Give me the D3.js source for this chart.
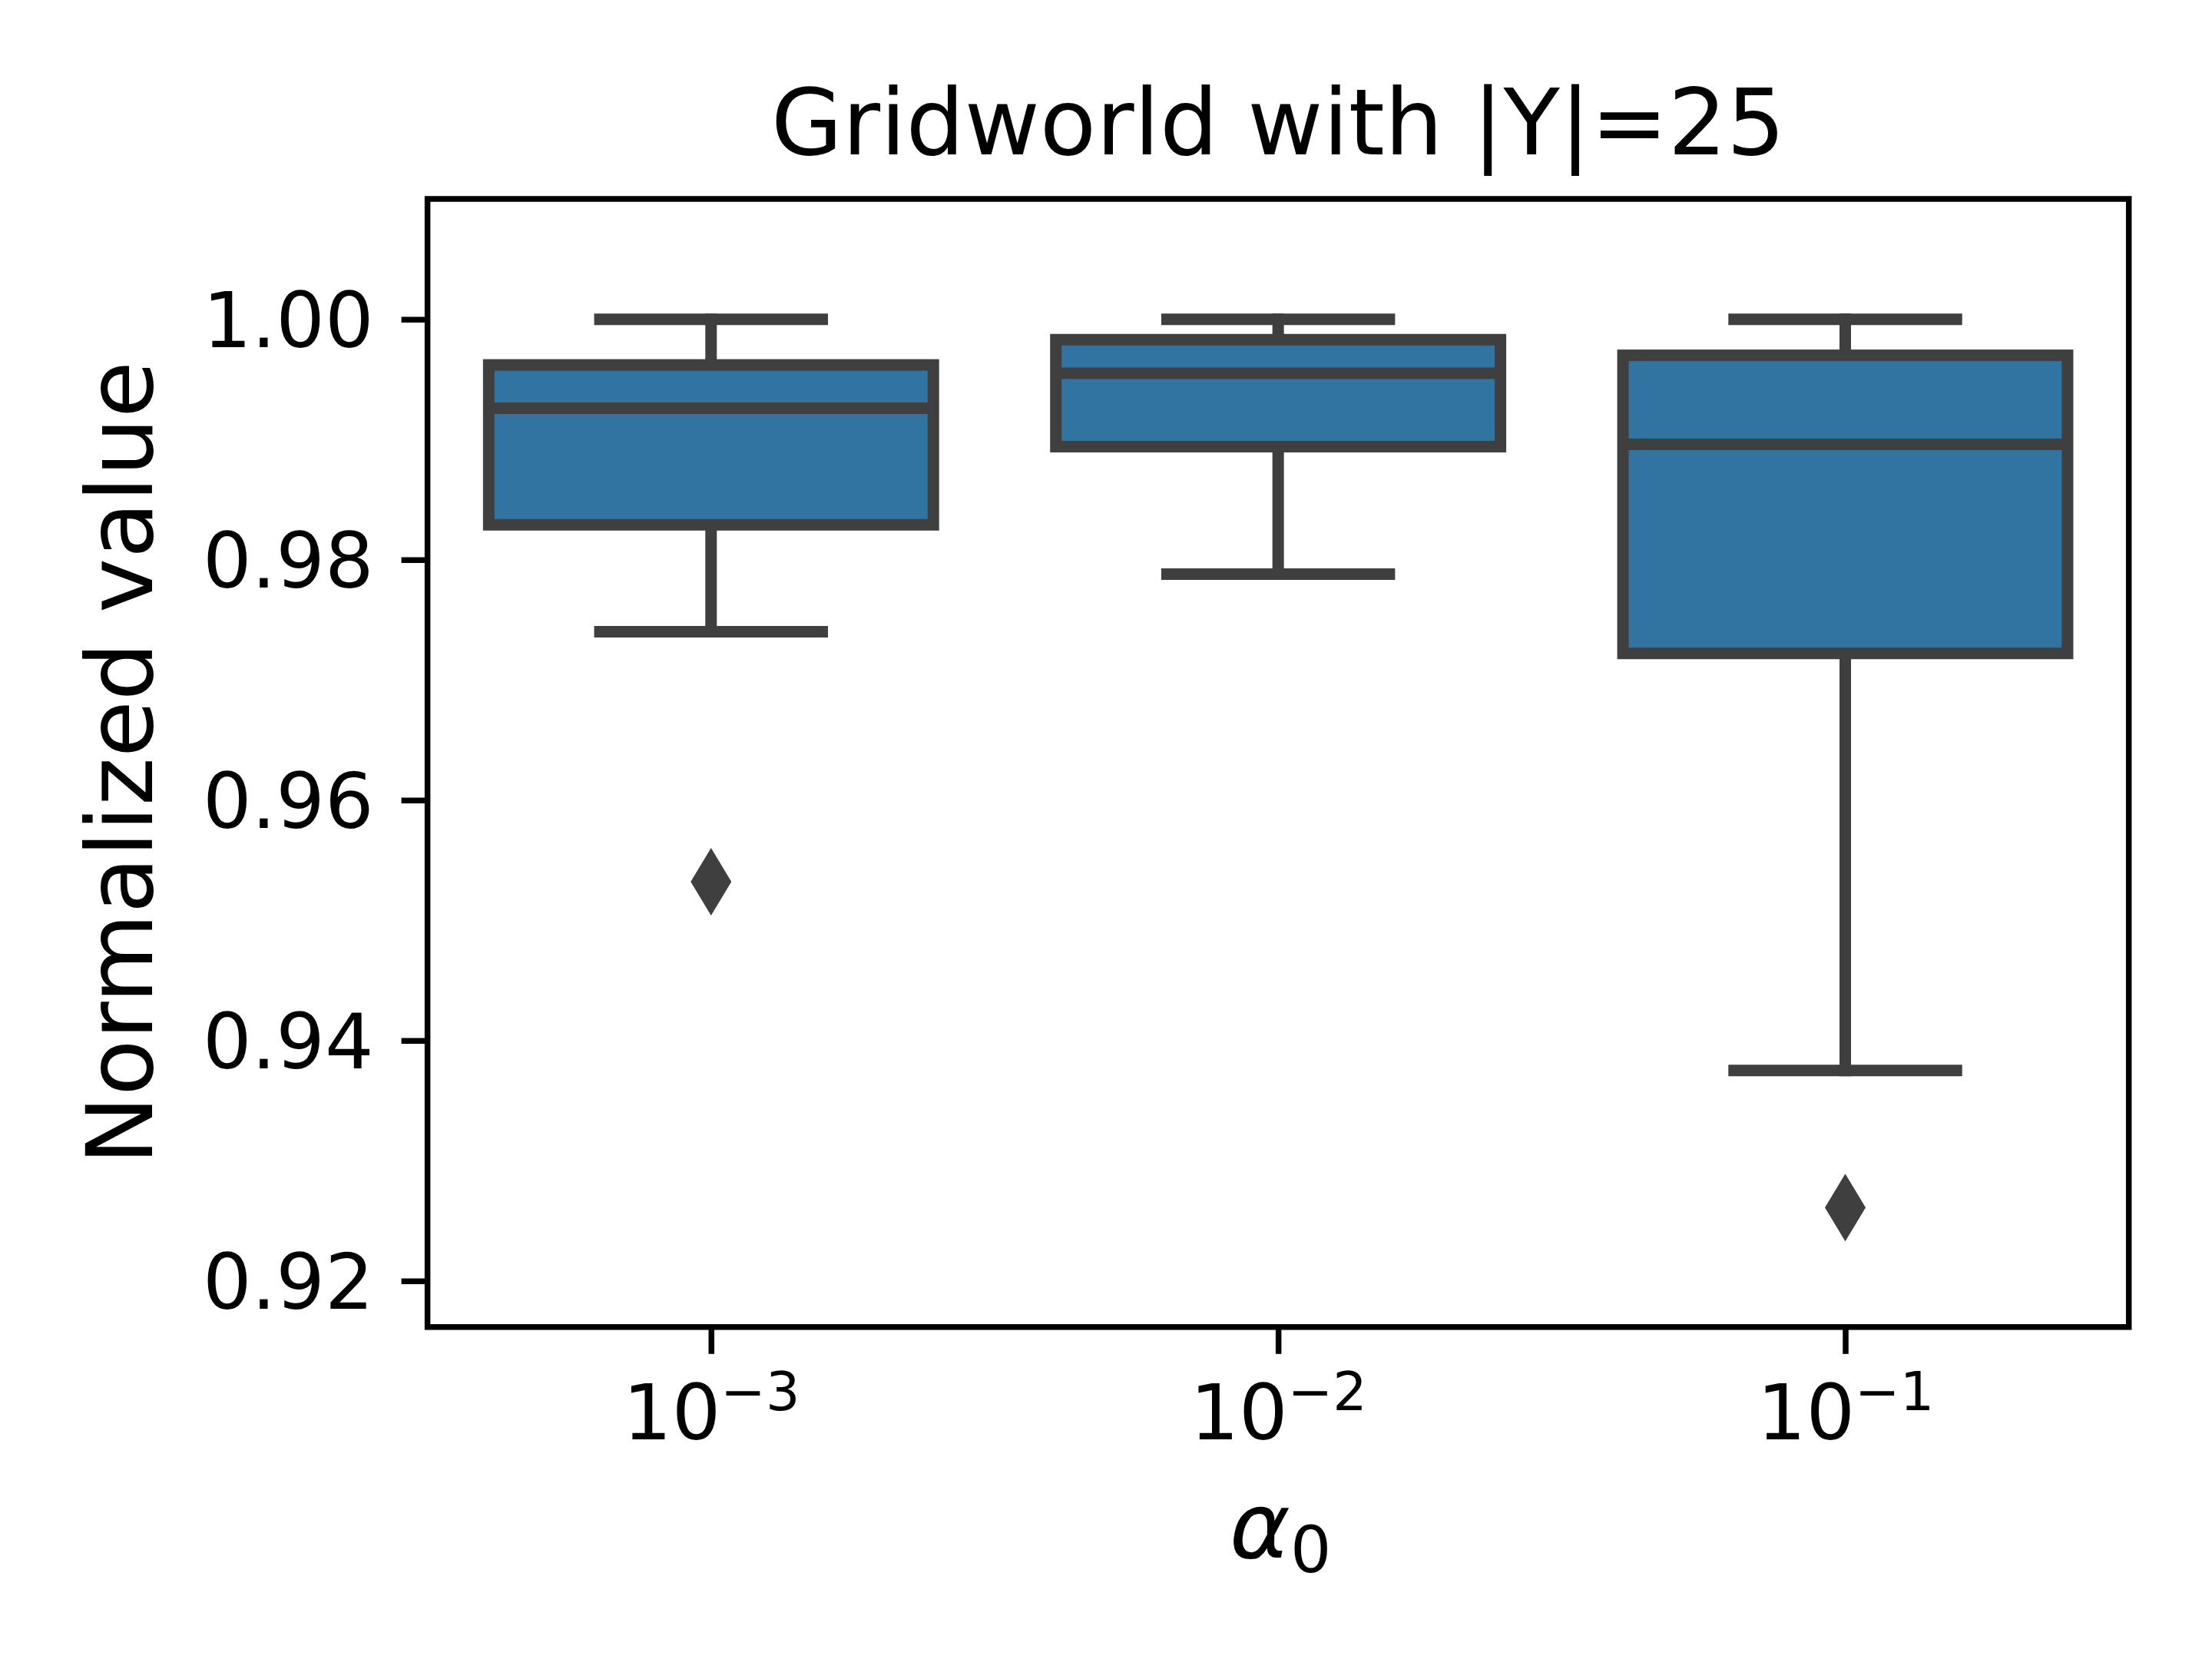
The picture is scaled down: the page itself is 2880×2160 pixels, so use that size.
<!DOCTYPE html>
<html>
<head>
<meta charset="utf-8">
<script src="https://cdn.jsdelivr.net/npm/d3@7"></script>
<style>
  body { margin: 0; background: #ffffff; }
  svg { display: block; }
</style>
</head>
<body>
<script>
var W = 2880;
var H = 2160;

// data
var categories = ["1e-3", "1e-2", "1e-1"];
var exponents = [-3, -2, -1];
var whiskerLow = [0.9740, 0.9788, 0.9375];
var q1 = [0.9829, 0.9894, 0.9722];
var median = [0.9926, 0.9955, 0.9896];
var q3 = [0.9962, 0.9983, 0.9970];
var whiskerHigh = [1.0000, 1.0000, 1.0000];
var outliers = [[0.9532], [], [0.9261]];
var yTicks = [0.92, 0.94, 0.96, 0.98, 1.00];

// plot area (note: "top" is a reserved window global, so prefix these)
var plotLeft = 556.6, plotRight = 2771.7, plotTop = 259, plotBottom = 1727.8;
var boxColor = "#3274a1";
var lineColor = "#3f3f3f";
var lw = 15;

var svg = d3.select("body").append("svg")
  .attr("width", W)
  .attr("height", H);

svg.append("rect")
  .attr("width", W)
  .attr("height", H)
  .attr("fill", "#ffffff");

var x = d3.scalePoint()
  .domain(categories)
  .range([plotLeft, plotRight])
  .padding(0.5);

var y = d3.scaleLinear()
  .domain([0.91616, 1.01001])
  .range([plotBottom, plotTop]);

var step = x.step();
var boxW = step * 0.784;
var capW = boxW / 2;

var rows = categories.map(function(c, i) {
  return { cat: c, lo: whiskerLow[i], q1: q1[i], med: median[i], q3: q3[i], hi: whiskerHigh[i], out: outliers[i] };
});

var g = svg.append("g");

// whiskers
g.selectAll(".whisk-lo")
  .data(rows).enter().append("line")
  .attr("x1", function(d) { return x(d.cat); })
  .attr("x2", function(d) { return x(d.cat); })
  .attr("y1", function(d) { return y(d.q1); })
  .attr("y2", function(d) { return y(d.lo); })
  .attr("stroke", lineColor).attr("stroke-width", lw).attr("stroke-linecap", "square");

g.selectAll(".whisk-hi")
  .data(rows).enter().append("line")
  .attr("x1", function(d) { return x(d.cat); })
  .attr("x2", function(d) { return x(d.cat); })
  .attr("y1", function(d) { return y(d.q3); })
  .attr("y2", function(d) { return y(d.hi); })
  .attr("stroke", lineColor).attr("stroke-width", lw).attr("stroke-linecap", "square");

// boxes
g.selectAll(".box")
  .data(rows).enter().append("rect")
  .attr("x", function(d) { return x(d.cat) - boxW / 2; })
  .attr("y", function(d) { return y(d.q3); })
  .attr("width", boxW)
  .attr("height", function(d) { return y(d.q1) - y(d.q3); })
  .attr("fill", boxColor)
  .attr("stroke", lineColor)
  .attr("stroke-width", lw);

// caps
["lo", "hi"].forEach(function(k) {
  g.selectAll(".cap-" + k)
    .data(rows).enter().append("line")
    .attr("x1", function(d) { return x(d.cat) - capW / 2; })
    .attr("x2", function(d) { return x(d.cat) + capW / 2; })
    .attr("y1", function(d) { return y(d[k]); })
    .attr("y2", function(d) { return y(d[k]); })
    .attr("stroke", lineColor).attr("stroke-width", lw).attr("stroke-linecap", "square");
});

// medians
g.selectAll(".med")
  .data(rows).enter().append("line")
  .attr("x1", function(d) { return x(d.cat) - boxW / 2; })
  .attr("x2", function(d) { return x(d.cat) + boxW / 2; })
  .attr("y1", function(d) { return y(d.med); })
  .attr("y2", function(d) { return y(d.med); })
  .attr("stroke", lineColor).attr("stroke-width", lw);

// outliers as thin diamonds
var diamond = d3.line()([[0, -44], [26.5, 0], [0, 44], [-26.5, 0]]) + "Z";
var flierData = [];
rows.forEach(function(d) {
  d.out.forEach(function(v) { flierData.push({ cat: d.cat, v: v }); });
});
g.selectAll(".flier")
  .data(flierData).enter().append("path")
  .attr("d", diamond)
  .attr("transform", function(d) { return "translate(" + x(d.cat) + "," + y(d.v) + ")"; })
  .attr("fill", lineColor);

// y axis
var yAxis = svg.append("g")
  .attr("transform", "translate(" + plotLeft + ",0)")
  .call(d3.axisLeft(y).tickValues(yTicks).tickFormat(d3.format(".2f"))
    .tickSize(34).tickSizeOuter(0).tickPadding(36));
yAxis.select(".domain").remove();
yAxis.selectAll(".tick line").attr("stroke", "#000").attr("stroke-width", 7.5);
yAxis.selectAll(".tick text")
  .attr("font-family", "DejaVu Sans")
  .attr("font-size", 100)
  .attr("fill", "#000")
  .attr("dy", "0.36em");

// x axis
var xAxis = svg.append("g")
  .attr("transform", "translate(0," + plotBottom + ")")
  .call(d3.axisBottom(x).tickSize(35).tickSizeOuter(0).tickFormat(""));
xAxis.select(".domain").remove();
xAxis.selectAll(".tick line").attr("stroke", "#000").attr("stroke-width", 7.5);
xAxis.selectAll(".tick text").remove();
xAxis.selectAll(".tick").each(function(d, i) {
  var t = d3.select(this).append("text")
    .attr("y", 146)
    .attr("text-anchor", "middle")
    .attr("font-family", "DejaVu Sans")
    .attr("font-size", 100)
    .attr("fill", "#000");
  t.append("tspan").text("10");
  t.append("tspan")
    .attr("font-size", 70)
    .attr("dy", -38)
    .text("\u2212" + Math.abs(exponents[i]));
});

// spines
svg.append("rect")
  .attr("x", plotLeft)
  .attr("y", plotTop)
  .attr("width", plotRight - plotLeft)
  .attr("height", plotBottom - plotTop)
  .attr("fill", "none")
  .attr("stroke", "#000")
  .attr("stroke-width", 7.5);

// title
svg.append("text")
  .attr("x", (plotLeft + plotRight) / 2)
  .attr("y", 201)
  .attr("text-anchor", "middle")
  .attr("font-family", "DejaVu Sans")
  .attr("font-size", 120)
  .attr("fill", "#000")
  .text("Gridworld with |Y|=25");

// x label
var xl = svg.append("text")
  .attr("x", (plotLeft + plotRight) / 2 + 3)
  .attr("y", 2028)
  .attr("text-anchor", "middle")
  .attr("font-family", "DejaVu Sans")
  .attr("font-size", 120)
  .attr("fill", "#000");
xl.append("tspan").attr("font-style", "italic").text("\u03b1");
xl.append("tspan").attr("font-size", 84).attr("dy", 19).text("0");

// y label
svg.append("text")
  .attr("transform", "translate(198," + ((plotTop + plotBottom) / 2) + ") rotate(-90)")
  .attr("text-anchor", "middle")
  .attr("font-family", "DejaVu Sans")
  .attr("font-size", 120)
  .attr("fill", "#000")
  .text("Normalized value");
</script>
</body>
</html>
